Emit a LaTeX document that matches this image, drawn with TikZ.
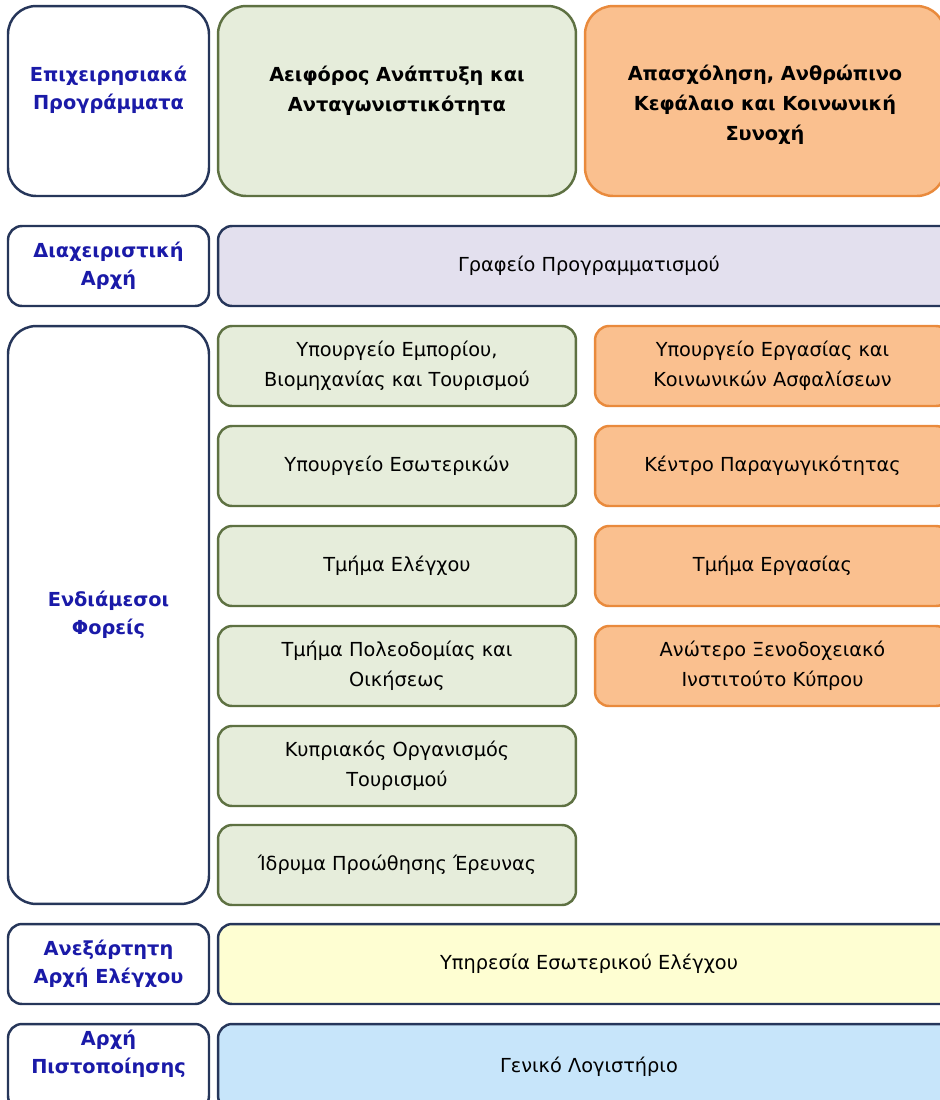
\documentclass[tikz,border=0pt]{standalone}
\usepackage{fontspec}
\setmainfont{DejaVu Sans}
\usepackage{tikz}

\definecolor{navy}{HTML}{26365A}
\definecolor{lblue}{HTML}{1A1AA8}
\definecolor{olive}{HTML}{5E7142}
\definecolor{grnfill}{HTML}{E6EDDB}
\definecolor{orgline}{HTML}{E98A3C}
\definecolor{orgfill}{HTML}{FAC08F}
\definecolor{purp}{HTML}{E3E0EE}
\definecolor{yell}{HTML}{FEFED2}
\definecolor{sky}{HTML}{C7E5FA}

\begin{document}
\begin{tikzpicture}[x=0.02cm, y=-0.02cm,
  every node/.style={font=\fontsize{11}{17}\selectfont, align=center, inner sep=0pt},
  lbltext/.style={text=lblue, font=\fontsize{11}{16}\selectfont\bfseries},
  box/.style={draw=navy, line width=1.4pt, rounded corners=8pt},
  lbl/.style={box, lbltext, fill=white, minimum width=4.02cm},
  grn/.style={box, draw=olive, fill=grnfill, minimum width=7.16cm, minimum height=1.6cm},
  org/.style={box, draw=orgline, fill=orgfill, minimum width=7.1cm, minimum height=1.6cm},
  wide/.style={box, minimum width=14.84cm, minimum height=1.6cm}]
  \useasboundingbox (0,0) rectangle (940,1100);
  \clip (0,0) rectangle (940,1100);

  % row 1
  \node[lbl, minimum height=3.8cm, rounded corners=16pt] (prog) at (108.5,101) {};
  \node[lbltext] (progt) at (108.5,90) {Επιχειρησιακά\\Προγράμματα};
  \node[grn, minimum height=3.8cm, rounded corners=16pt] (aeif) at (397,101) {};
  \node[font=\fontsize{11}{17}\selectfont\bfseries] (aeift) at (397,91) {Αειφόρος Ανάπτυξη και\\Ανταγωνιστικότητα};
  \node[org, minimum width=7.2cm, minimum height=3.8cm, rounded corners=16pt] (apas) at (765,101) {};
  \node[font=\fontsize{11}{17}\selectfont\bfseries] (apast) at (765,105) {Απασχόληση, Ανθρώπινο\\Κεφάλαιο και Κοινωνική\\Συνοχή};

  % row 2
  \node[lbl, minimum height=1.6cm] (diax) at (108.5,266) {Διαχειριστική\\Αρχή};
  \node[wide, fill=purp] (graf) at (589,266) {Γραφείο Προγραμματισμού};

  % row 3
  \node[lbl, minimum height=11.56cm, rounded corners=16pt] (endi) at (108.5,615) {Ενδιάμεσοι\\Φορείς};
  \node[grn] (yemt) at (397,366) {Υπουργείο Εμπορίου,\\Βιομηχανίας και Τουρισμού};
  \node[grn] (yes) at (397,466) {Υπουργείο Εσωτερικών};
  \node[grn] (tel) at (397,566) {Τμήμα Ελέγχου};
  \node[grn] (tpo) at (397,666) {Τμήμα Πολεοδομίας και\\Οικήσεως};
  \node[grn] (kot) at (397,766) {Κυπριακός Οργανισμός\\Τουρισμού};
  \node[grn] (ipe) at (397,865) {Ίδρυμα Προώθησης Έρευνας};
  \node[org] (yeka) at (772.5,366) {Υπουργείο Εργασίας και\\Κοινωνικών Ασφαλίσεων};
  \node[org] (kep) at (772.5,466) {Κέντρο Παραγωγικότητας};
  \node[org] (ter) at (772.5,566) {Τμήμα Εργασίας};
  \node[org] (axik) at (772.5,666) {Ανώτερο Ξενοδοχειακό\\Ινστιτούτο Κύπρου};

  % row 4
  \node[lbl, minimum height=1.6cm] (anex) at (108.5,964) {Ανεξάρτητη\\Αρχή Ελέγχου};
  \node[wide, fill=yell] (ypel) at (589,964) {Υπηρεσία Εσωτερικού Ελέγχου};

  % row 5
  \node[lbl, minimum height=1.72cm] (pist) at (108.5,1067) {};
  \node[lbltext] (pistt) at (108.5,1054) {Αρχή\\Πιστοποίησης};
  \node[wide, fill=sky, minimum height=1.72cm] (genl) at (589,1067) {Γενικό Λογιστήριο};
\end{tikzpicture}
\end{document}
